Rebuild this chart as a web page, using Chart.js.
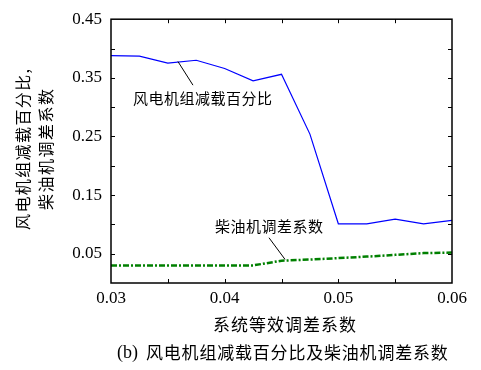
<!DOCTYPE html>
<html><head><meta charset="utf-8">
<script src="https://cdn.jsdelivr.net/npm/chart.js@4/dist/chart.umd.min.js"></script>
<style>html,body{margin:0;padding:0;background:#fff}#wrap{width:481px;height:370px}</style>
</head><body><div id="wrap"><canvas id="c" width="481" height="370"></canvas></div>
<script>
const xValues = [0.03,0.0325,0.035,0.0375,0.04,0.0425,0.045,0.0475,0.05,0.0525,0.055,0.0575,0.06];
const windReduction = [0.388,0.387,0.375,0.380,0.366,0.345,0.356,0.254,0.101,0.101,0.109,0.101,0.107];
const dieselDroop = [0.030,0.030,0.030,0.030,0.030,0.030,0.038,0.040,0.0425,0.045,0.048,0.051,0.052];
const xTickLabels = [0.03,0.04,0.05,0.06];
const yTickLabels = [0.05,0.15,0.25,0.35,0.45];
const xTitle = '系统等效调差系数';
const yTitle1 = '风电机组减载百分比,';
const yTitle2 = '柴油机调差系数';
const captionTag = '(b)';
const caption = '风电机组减载百分比及柴油机调差系数';
const label1 = '风电机组减载百分比';
const label2 = '柴油机调差系数';

const CJK = '"Noto Sans CJK SC", sans-serif';
const SERIF = '"Liberation Serif", serif';

function near(v, list){ return list.some(t => Math.abs(t - v) < 1e-6); }

const decor = {
  id: 'decor',
  afterDraw(chart){
    const ctx = chart.ctx, xs = chart.scales.x, ys = chart.scales.y, a = chart.chartArea;
    ctx.save();
    // frame
    ctx.strokeStyle = '#000'; ctx.lineWidth = 1.5;
    ctx.strokeRect(a.left, a.top, a.right - a.left, a.bottom - a.top);
    // inward ticks
    ctx.lineWidth = 1;
    ctx.beginPath();
    for (let v = 0.035; v < 0.0599; v += 0.005){
      const px = Math.round(xs.getPixelForValue(v)) + 0.5;
      ctx.moveTo(px, a.bottom); ctx.lineTo(px, a.bottom - 4);
      ctx.moveTo(px, a.top); ctx.lineTo(px, a.top + 4);
    }
    for (let k = 1; k < 9; k++){
      const py = Math.round(ys.getPixelForValue(k*0.05)) + 0.5;
      ctx.moveTo(a.left, py); ctx.lineTo(a.left + 4, py);
      ctx.moveTo(a.right, py); ctx.lineTo(a.right - 4, py);
    }
    ctx.stroke();
    // annotations
    ctx.fillStyle = '#000';
    ctx.font = '15px ' + CJK;
    ctx.letterSpacing = '0.5px';
    ctx.textBaseline = 'middle'; ctx.textAlign = 'left';
    ctx.fillText(label1, xs.getPixelForValue(0.03194), ys.getPixelForValue(0.3157));
    ctx.fillText(label2, xs.getPixelForValue(0.03915), ys.getPixelForValue(0.0974));
    ctx.beginPath();
    ctx.moveTo(xs.getPixelForValue(0.03589), ys.getPixelForValue(0.3778));
    ctx.lineTo(xs.getPixelForValue(0.03721), ys.getPixelForValue(0.3375));
    ctx.moveTo(xs.getPixelForValue(0.0439), ys.getPixelForValue(0.0772));
    ctx.lineTo(xs.getPixelForValue(0.04531), ys.getPixelForValue(0.0403));
    ctx.stroke();
    // axis titles
    ctx.font = '17px ' + CJK;
    ctx.letterSpacing = '1px';
    ctx.fillText(xTitle, 213, 325);
    ctx.font = '18px ' + SERIF;
    ctx.letterSpacing = '0px';
    ctx.fillText(captionTag, 117, 353);
    ctx.font = '17px ' + CJK;
    ctx.letterSpacing = '0.8px';
    ctx.fillText(caption, 146, 353);
    ctx.font = '16px ' + CJK;
    ctx.letterSpacing = '1.4px';
    ctx.save(); ctx.translate(23, 230); ctx.rotate(-Math.PI/2); ctx.fillText(yTitle1, 0, 0); ctx.restore();
    ctx.letterSpacing = '1.5px';
    ctx.save(); ctx.translate(46, 210); ctx.rotate(-Math.PI/2); ctx.fillText(yTitle2, 0, 0); ctx.restore();
    ctx.restore();
  }
};

new Chart(document.getElementById('c'), {
  type: 'line',
  data: {
    datasets: [
      { data: xValues.map((x,i)=>({x, y: windReduction[i]})), borderColor: '#0000ff', borderWidth: 1.2, pointRadius: 0, tension: 0, fill: false },
      { data: xValues.map((x,i)=>({x, y: dieselDroop[i]})), borderColor: '#008000', borderWidth: 2.5, borderDash: [6,2,2,2], pointRadius: 0, tension: 0, fill: false }
    ]
  },
  options: {
    responsive: false, animation: false,
    layout: { padding: { top: 15, right: 29, left: 0, bottom: 0 } },
    plugins: { legend: { display: false }, tooltip: { enabled: false } },
    scales: {
      x: {
        type: 'linear', min: 0.03, max: 0.06,
        afterFit(s){ s.height = 87; },
        border: { display: false },
        grid: { display: false, drawTicks: false },
        ticks: { stepSize: 0.005, autoSkip: false, maxRotation: 0, padding: 5, color: '#000',
          font: { family: SERIF, size: 17 },
          callback: v => near(v, xTickLabels) ? (Math.round(v*100)/100).toFixed(2) : '' }
      },
      y: {
        min: 0, max: 0.45,
        afterFit(s){ s.width = 111; },
        border: { display: false },
        grid: { display: false, drawTicks: false },
        ticks: { stepSize: 0.05, autoSkip: false, padding: 9, color: '#000',
          font: { family: SERIF, size: 17 },
          callback: v => near(v, yTickLabels) ? (Math.round(v*100)/100).toFixed(2) : '' }
      }
    }
  },
  plugins: [decor]
});
</script>
</body></html>
